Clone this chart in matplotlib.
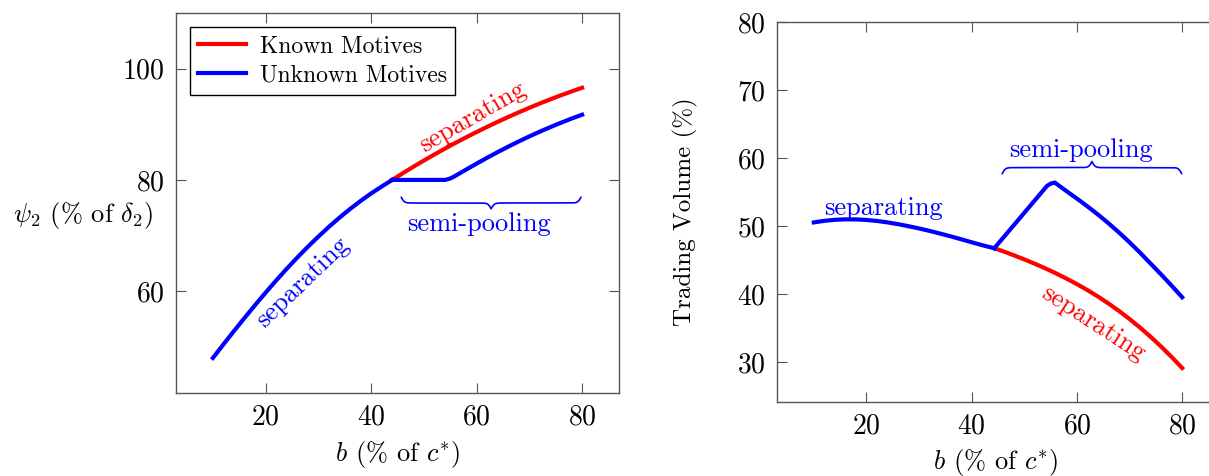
import numpy as np
import matplotlib
matplotlib.use("Agg")
import matplotlib.pyplot as plt

plt.rcParams["font.family"] = ["cmr10", "DejaVu Serif"]
plt.rcParams["mathtext.fontset"] = "cm"
plt.rcParams["axes.formatter.use_mathtext"] = True

# ---- left panel: psi_2 (% of delta_2) vs b (% of c*)
# shared separating part (known = unknown up to b ~ 44)
b_sep = [10, 12, 14, 16, 18, 20, 22, 24, 26, 28, 30, 32, 34, 36, 38, 40, 42, 44]
psi_sep = [48.0, 50.45, 52.85, 55.2, 57.5, 59.75, 61.93, 64.03, 66.05, 67.98,
           69.82, 71.57, 73.22, 74.77, 76.22, 77.57, 78.81, 80.0]
# known motives after the split
b_known = [44, 46, 48, 50, 52, 54, 56, 58, 60, 62, 64, 66, 68, 70, 72, 74, 76, 78, 80]
psi_known = [80.0, 81.2, 82.36, 83.48, 84.57, 85.63, 86.66, 87.65, 88.61, 89.54,
             90.44, 91.31, 92.15, 92.96, 93.74, 94.49, 95.21, 95.9, 96.56]
# unknown motives after the split (flat, then rising)
b_unknown = [44, 54, 55, 56, 58, 60, 62, 64, 66, 68, 70, 72, 74, 76, 78, 80]
psi_unknown = [80.0, 80.0, 80.25, 80.75, 81.85, 82.93, 83.98, 85.0, 85.98, 86.92,
               87.82, 88.68, 89.5, 90.28, 91.02, 91.72]

# ---- right panel: trading volume (%) vs b (% of c*)
b_vol_sep = [10, 12, 14, 16, 18, 20, 22, 24, 26, 28, 30, 32, 34, 36, 38, 40, 42, 44.3]
vol_sep = [50.55, 50.78, 50.93, 51.0, 50.99, 50.91, 50.76, 50.55, 50.29, 49.99,
           49.66, 49.3, 48.91, 48.5, 48.07, 47.63, 47.2, 46.75]
b_vol_known = [44.3, 46, 48, 50, 52, 54, 56, 58, 60, 62, 64, 66, 68, 70, 72, 74, 76, 78, 80]
vol_known = [46.75, 46.3, 45.72, 45.11, 44.47, 43.79, 43.07, 42.3, 41.48, 40.6,
             39.65, 38.63, 37.53, 36.35, 35.09, 33.74, 32.3, 30.77, 29.15]
b_vol_unknown = [44.3, 54.3, 55.0, 55.8, 58, 60, 62, 64, 66, 68, 70, 72, 74, 76, 78, 80]
vol_unknown = [46.75, 55.9, 56.25, 56.4, 55.15, 54.05, 52.9, 51.7, 50.42, 49.06,
               47.62, 46.1, 44.5, 42.9, 41.25, 39.55]

x_ticks = [20, 40, 60, 80]
left_yticks = [60, 80, 100]
right_yticks = [30, 40, 50, 60, 70, 80]

RED = "#ff0000"
BLUE = "#0000ff"
LW = 3.0


def curly_brace(ax, x0, x1, y, depth, color, r=1.2):
    # horizontal brace, tips at y, middle point at y + depth
    half = (x1 - x0) / 2.0
    beta = 4.0 / r
    xh = np.linspace(0, half, 200)
    yh = 1 / (1 + np.exp(-beta * xh)) + 1 / (1 + np.exp(-beta * (xh - half)))
    yh = yh - yh[0]
    yh = yh / yh[-1]
    xs = np.concatenate([x0 + xh, x0 + half + xh])
    ys = np.concatenate([yh, yh[::-1]])
    ax.plot(xs, y + depth * ys, color=color, lw=1.2, solid_capstyle="round")


def style_axes(ax):
    for s in ax.spines.values():
        s.set_color("#555555")
        s.set_linewidth(1.0)
    ax.tick_params(direction="in", length=7.5, width=0.8, colors="#555555",
                   top=True, right=True, labelsize=20, labelcolor="black", pad=8)
    ax.set_xlim(3, 87)
    ax.set_xticks(x_ticks)


fig = plt.figure(figsize=(12.09, 4.76), dpi=100)
ax1 = fig.add_axes([176 / 1209, 1 - 393 / 476, 443 / 1209, 380 / 476])
ax2 = fig.add_axes([777 / 1209, 1 - 401.7 / 476, 442 / 1209, 379.7 / 476])

# left panel
ax1.plot(b_known, psi_known, color=RED, lw=LW, label="Known Motives")
ax1.plot(b_sep, psi_sep, color=BLUE, lw=LW, label="Unknown Motives")
ax1.plot(b_unknown, psi_unknown, color=BLUE, lw=LW)
style_axes(ax1)
ax1.set_ylim(41.7, 110)
ax1.set_yticks(left_yticks)
ax1.text(59.2, 91.3, "separating", color=RED, fontsize=19, rotation=30,
         ha="center", va="center", rotation_mode="anchor")
ax1.text(27.0, 61.6, "separating", color=BLUE, fontsize=19, rotation=44,
         ha="center", va="center", rotation_mode="anchor")
curly_brace(ax1, 45.7, 79.8, 76.9, -2.1, BLUE)
ax1.text(60.5, 72.1, "semi-pooling", color=BLUE, fontsize=19,
         ha="center", va="center")
leg = ax1.legend(loc="upper left", fontsize=17, frameon=True, fancybox=False,
                 edgecolor="black", framealpha=1, borderaxespad=0.6,
                 handlelength=2.0, handletextpad=0.6, borderpad=0.35,
                 labelspacing=0.3)
leg.get_frame().set_linewidth(1.0)
ax1.set_xlabel(r"$b$ (% of $c^{*}$)", fontsize=19, va="center")
ax1.xaxis.set_label_coords(0.499, -0.163)
ax1.set_ylabel(r"$\psi_2$ (% of $\delta_2$)", fontsize=19, rotation=0,
               ha="right", va="center")
ax1.yaxis.set_label_coords(-0.052, 0.468)

# right panel
ax2.plot(b_vol_known, vol_known, color=RED, lw=LW)
ax2.plot(b_vol_sep, vol_sep, color=BLUE, lw=LW)
ax2.plot(b_vol_unknown, vol_unknown, color=BLUE, lw=LW)
style_axes(ax2)
ax2.set_ylim(24.2, 80)
ax2.set_yticks(right_yticks)
ax2.text(23.2, 52.6, "separating", color=BLUE, fontsize=19,
         ha="center", va="center")
ax2.text(63.1, 35.7, "separating", color=RED, fontsize=19, rotation=-33,
         ha="center", va="center", rotation_mode="anchor")
curly_brace(ax2, 45.8, 79.9, 57.7, 1.8, BLUE)
ax2.text(60.8, 61.2, "semi-pooling", color=BLUE, fontsize=19,
         ha="center", va="center")
ax2.set_xlabel(r"$b$ (% of $c^{*}$)", fontsize=19, va="center")
ax2.xaxis.set_label_coords(0.495, -0.161)
ax2.set_ylabel("Trading Volume (%)", fontsize=18, va="center")
ax2.yaxis.set_label_coords(-0.208, 0.5)

fig.savefig("out.png", dpi=100)
